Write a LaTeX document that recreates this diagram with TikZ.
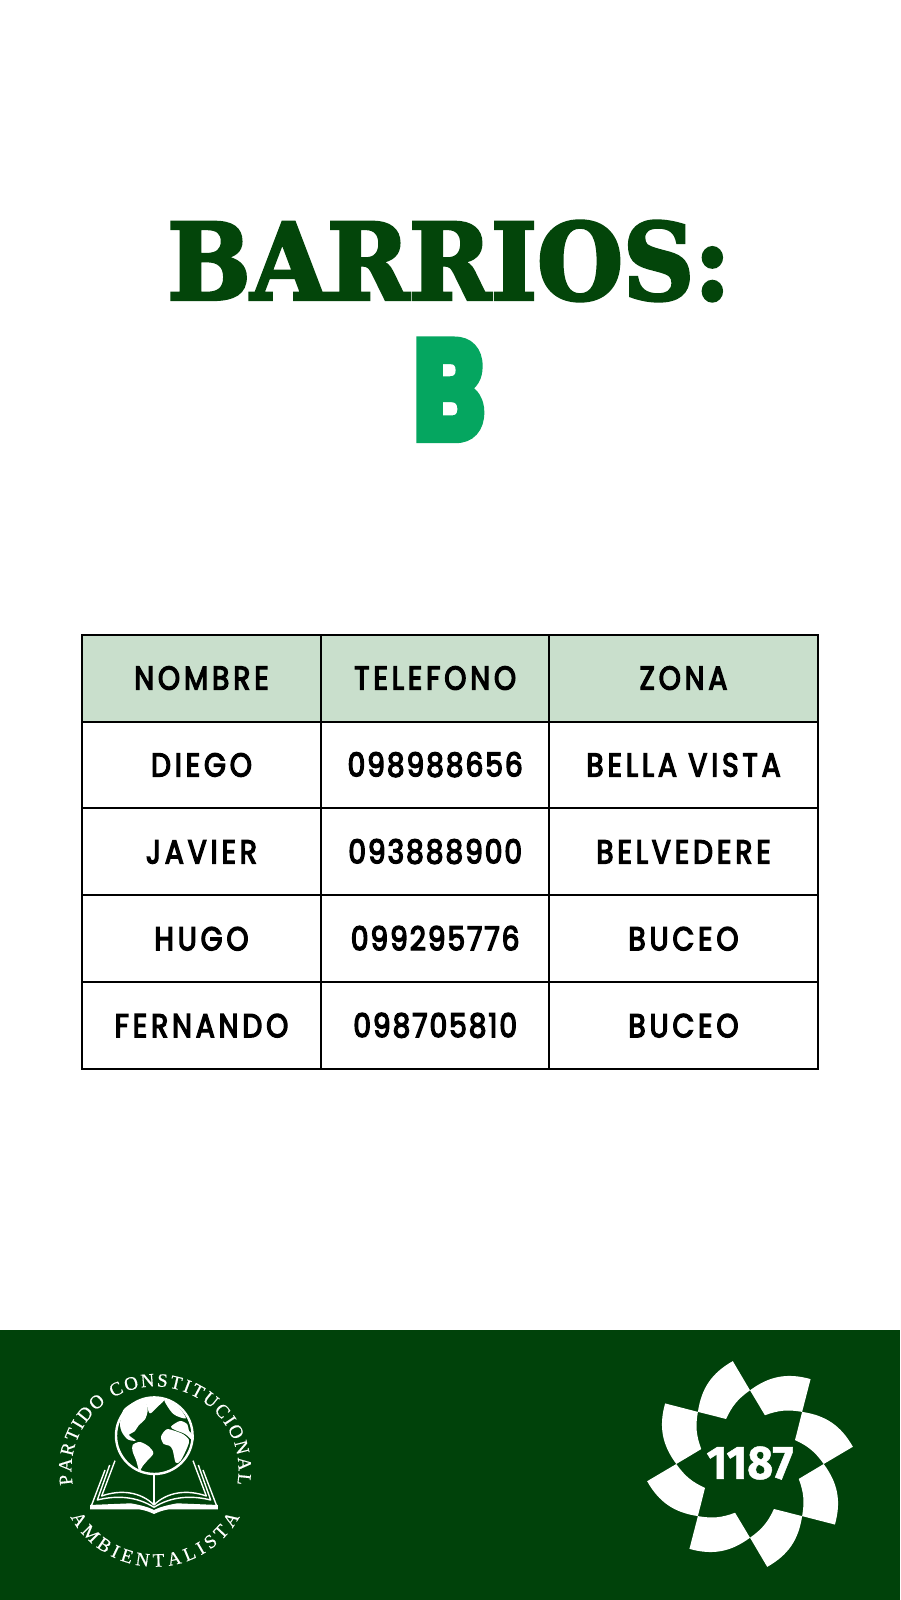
\documentclass[tikz,border=0pt]{standalone}
\usepackage{fontspec}
\usetikzlibrary{decorations.text}
\newfontfamily\titlefont[FakeStretch=0.93,BoldFeatures={FakeBold=3}]{DejaVu Serif}
\newfontfamily\letterfont[FakeStretch=0.76,BoldFeatures={FakeBold=6}]{Poppins}
\newfontfamily\tablefont[LetterSpace=12,FakeStretch=0.85,FakeBold=4]{Poppins}
\newfontfamily\numberfont[LetterSpace=6,FakeStretch=0.85,FakeBold=4]{Poppins}
\newfontfamily\seriffont[FakeBold=0.5]{Liberation Serif}
\newfontfamily\yearfont[FakeStretch=0.95,BoldFeatures={FakeBold=1}]{Fira Sans}
\definecolor{darkgreen}{HTML}{03450A}
\definecolor{footgreen}{HTML}{00420A}
\definecolor{midgreen}{HTML}{05A660}
\definecolor{headgreen}{HTML}{C9DFCC}
\tikzset{
  cellbox/.style={draw=black,line width=2pt,fill=white,minimum height=86.9pt,inner sep=0pt,
    text height=23pt,text depth=0pt,font=\tablefont\fontsize{33}{33}\selectfont},
  headbox/.style={cellbox,fill=headgreen},
  land/.style={fill=white,draw=none},
  bookline/.style={draw=white,line width=1.4pt,line join=round},
}
\newcommand*{\TableRow}[6]{% #1 = name, #2 = y, #3 = style, #4-#6 = texts
\node [#3, minimum width=239.8pt] (#1nombre) at (201.5,#2) {#4};
\node [#3, minimum width=227.6pt] (#1telefono) at (435.2,#2) {\numberfont #5};
\node [#3, minimum width=269pt] (#1zona) at (683.5,#2) {#6};
}
\begin{document}
\begin{tikzpicture}[x=1pt,y=1pt]
  \useasboundingbox (0,0) rectangle (900,1600);
  \fill[white] (0,0) rectangle (900,1600);

  \node [text=darkgreen,font=\titlefont\bfseries\fontsize{106}{106}\selectfont,inner sep=0pt] (title) at (449,1339) {BARRIOS:};
  \node [text=midgreen,font=\letterfont\bfseries\fontsize{140}{140}\selectfont,inner sep=0pt,text height=98pt,text depth=0pt] (letter) at (449,1210) {B};

  \TableRow{head}{921.9}{headbox}{NOMBRE}{\tablefont TELEFONO}{ZONA}
  \TableRow{diego}{835}{cellbox}{DIEGO}{098988656}{BELLA VISTA}
  \TableRow{javier}{748.1}{cellbox}{JAVIER}{093888900}{BELVEDERE}
  \TableRow{hugo}{661.2}{cellbox}{HUGO}{099295776}{BUCEO}
  \TableRow{fernando}{574.3}{cellbox}{FERNANDO}{098705810}{BUCEO}

  \fill[footgreen] (0,0) rectangle (900,270);

  % left emblem
  \path[decorate,decoration={text along path,text align={fit to path},
    text={|\seriffont\fontsize{19}{19}\selectfont\color{white}|PARTIDO CONSTITUCIONAL}}]
    (155,130) ++(190:83.5) arc[start angle=190,end angle=-10,radius=83.5];
  \path[decorate,decoration={text along path,text align={fit to path},
    text={|\seriffont\fontsize{19}{19}\selectfont\color{white}|AMBIENTALISTA}}]
    (155,130) ++(209:96.7) arc[start angle=209,end angle=331,radius=96.7];
  \draw[white,line width=2.4pt] (154.3,164.3) circle[radius=38.3];
  \begin{scope}[shift={(105,210)},x=0.3333pt,y=-0.3333pt]
    \fill[land] plot[smooth cycle,tension=0.5] coordinates {(45,100) (55,60) (85,38) (118,30) (128,60) (120,88) (102,105) (88,125) (72,135) (92,152) (68,148) (50,125)};
    \fill[land] plot[smooth cycle,tension=0.5] coordinates {(118,24) (178,26) (158,50) (135,70) (125,45)};
    \fill[land] plot[smooth cycle,tension=0.5] coordinates {(83,165) (105,156) (132,170) (145,190) (127,212) (114,227) (103,242) (93,210) (83,185)};
    \fill[land] plot[smooth cycle,tension=0.5] coordinates {(168,140) (185,118) (210,123) (235,133) (252,150) (247,172) (227,212) (212,218) (203,180) (193,167) (176,162)};
    \fill[land] plot[smooth cycle,tension=0.5] coordinates {(198,110) (225,93) (247,103) (252,123) (265,135) (264,152) (240,132) (210,120)};
    \fill[land] plot[smooth cycle,tension=0.5] coordinates {(178,30) (217,48) (243,85) (205,72)};
  \end{scope}
  \foreach \side in {1,-1} {
    \begin{scope}[shift={(154,150)},x=0.3333pt,y=-0.3333pt,xscale=\side]
      \draw[bookline] (-117,32) -- (-157,138) .. controls (-100,118) and (-40,125) .. (0,165);
      \draw[bookline] (-133,45) -- (-170,150) .. controls (-110,135) and (-50,140) .. (0,172);
      \draw[bookline] (-147,60) -- (-187,165);
      \fill[white] (-192,165) -- (-70,160) .. controls (-40,165) and (-15,172) .. (0,180) -- (0,192) .. controls (-15,185) and (-30,180) .. (-45,178) -- (-192,178) -- cycle;
    \end{scope}
  }
  \draw[bookline] (154,125) -- (154,95);

  % right emblem
  \foreach \ang in {0,-45,...,-315} {
    \begin{scope}[shift={(750,136)},rotate=\ang]
      \fill[white] (135:73.7) to[bend left=26] (99.5:104.3) -- (90:73.7) to[bend right=15] (118:51) -- cycle;
    \end{scope}
  }
  \node [text=white,font=\yearfont\bfseries\fontsize{47}{47}\selectfont,inner sep=0pt] (year) at (750,137) {1187};
\end{tikzpicture}
\end{document}
